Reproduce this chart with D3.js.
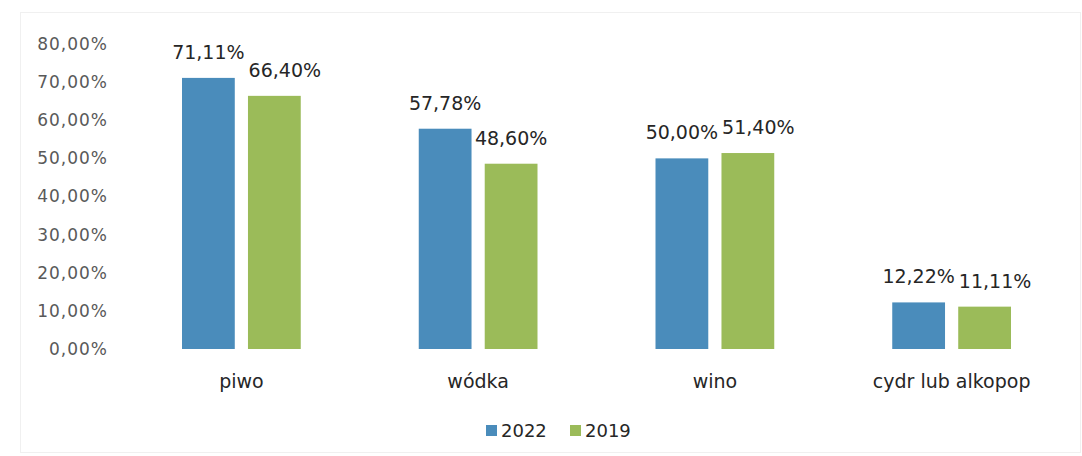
<!DOCTYPE html>
<html>
<head>
<meta charset="utf-8">
<script src="https://cdn.jsdelivr.net/npm/d3@7"></script>
<style>
  body { margin: 0; background: #fff; }
  text { font-family: "DejaVu Sans", sans-serif; }
</style>
</head>
<body>
<svg width="1082" height="456"></svg>
<script>
// kategorie i serie
var categories = ["piwo", "wódka", "wino", "cydr lub alkopop"];
var years = ["2022", "2019"];
var values2022 = [71.11, 57.78, 50.00, 12.22];
var values2019 = [66.40, 48.60, 51.40, 11.11];
var yTicks = [0, 10, 20, 30, 40, 50, 60, 70, 80];

var colors = { "2022": "#4a8cbb", "2019": "#9bbb59" };

var svg = d3.select("svg"),
    margin = { top: 44, right: 12, bottom: 107, left: 123 },
    width = +svg.attr("width") - margin.left - margin.right,
    height = +svg.attr("height") - margin.top - margin.bottom;

// faint frame of the original
svg.append("rect")
    .attr("x", 20.5).attr("y", 12.5)
    .attr("width", 1060).attr("height", 440)
    .attr("fill", "none").attr("stroke", "#f0f0f0");

var g = svg.append("g").attr("transform", "translate(" + margin.left + "," + margin.top + ")");

var x0 = d3.scaleBand().domain(categories).range([0, width]);
var x1 = d3.scaleBand().domain(years).range([59, x0.bandwidth() - 59]).paddingInner(0.2);
var y = d3.scaleLinear().domain([0, 80]).range([height, 0]);

var fmt = function(v) { return d3.format(".2f")(v).replace(".", ",") + "%"; };

// y axis labels only
var yAxis = g.append("g")
    .call(d3.axisLeft(y).tickValues(yTicks).tickSize(0).tickPadding(15).tickFormat(fmt));
yAxis.select(".domain").remove();
yAxis.selectAll("text")
    .attr("fill", "#595959")
    .style("font-family", "DejaVu Sans")
    .style("font-size", "17px")
    .style("letter-spacing", "1px");

var data = categories.map(function(c, i) {
  return { cat: c, vals: [{ year: "2022", v: values2022[i] }, { year: "2019", v: values2019[i] }] };
});

var grp = g.selectAll(".grp")
  .data(data)
  .enter().append("g")
    .attr("class", "grp")
    .attr("transform", function(d) { return "translate(" + x0(d.cat) + ",0)"; });

grp.selectAll("rect")
  .data(function(d) { return d.vals; })
  .enter().append("rect")
    .attr("x", function(d) { return x1(d.year); })
    .attr("y", function(d) { return y(d.v); })
    .attr("width", x1.bandwidth())
    .attr("height", function(d) { return height - y(d.v); })
    .attr("fill", function(d) { return colors[d.year]; });

grp.selectAll(".lbl")
  .data(function(d) { return d.vals; })
  .enter().append("text")
    .attr("class", "lbl")
    .attr("x", function(d) { return x1(d.year) + x1.bandwidth() / 2; })
    .attr("y", function(d) { return y(d.v) - 19; })
    .attr("text-anchor", "middle")
    .attr("fill", "#262626")
    .style("font-size", "19px")
    .text(function(d) { return fmt(d.v); });

// push the second label right when the pair collides
grp.each(function() {
  var t = d3.select(this).selectAll(".lbl").nodes();
  var a = t[0], b = t[1];
  var ya = +a.getAttribute("y"), yb = +b.getAttribute("y");
  if (Math.abs(ya - yb) > 20) return;
  var xa = +a.getAttribute("x"), xb = +b.getAttribute("x");
  var need = (a.getComputedTextLength() + b.getComputedTextLength()) / 2 + 4;
  if (xb - xa < need) b.setAttribute("x", xa + need);
});

// category labels
g.append("g")
    .attr("transform", "translate(0," + height + ")")
    .call(d3.axisBottom(x0).tickSize(0).tickPadding(26))
    .call(function(a) { a.select(".domain").remove(); })
    .selectAll("text")
    .attr("fill", "#262626")
    .style("font-family", "DejaVu Sans")
    .style("font-size", "19px");

// legend
var legend = svg.append("g").attr("transform", "translate(486,425)");
var li = legend.selectAll("g")
  .data(years)
  .enter().append("g")
    .attr("transform", function(d, i) { return "translate(" + (i * 84) + ",0)"; });
li.append("rect")
    .attr("width", 11).attr("height", 11)
    .attr("fill", function(d) { return colors[d]; });
li.append("text")
    .attr("x", 15).attr("y", 12)
    .attr("fill", "#262626")
    .style("font-size", "18px")
    .text(function(d) { return d; });
</script>
</body>
</html>
